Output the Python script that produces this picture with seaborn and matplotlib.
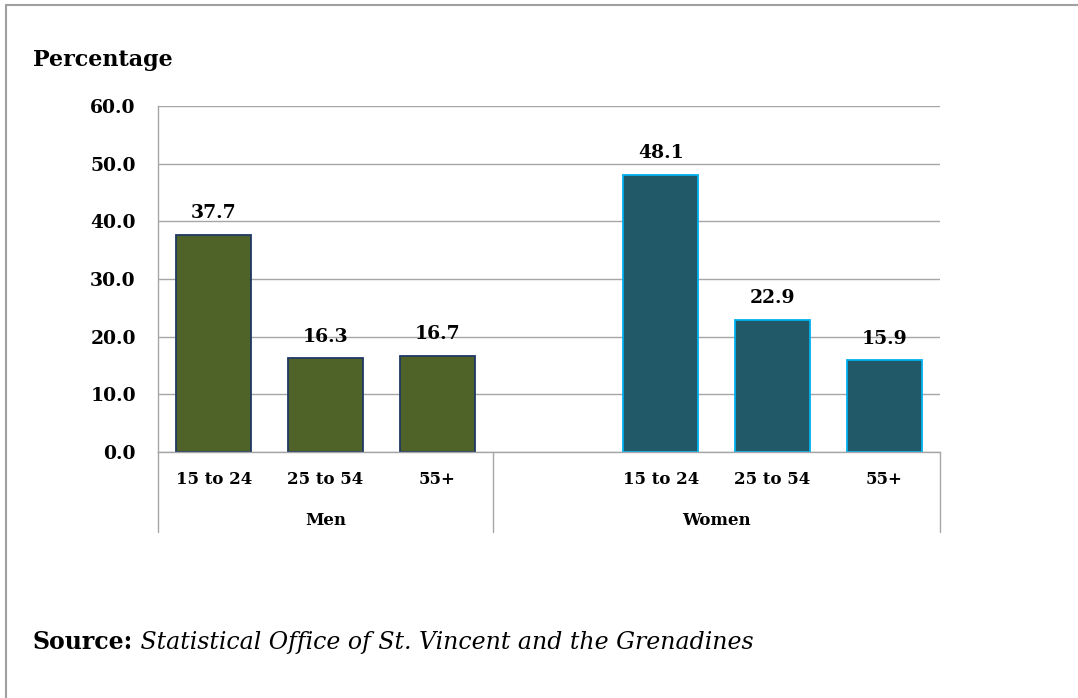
import pandas as pd
import matplotlib.pyplot as plt
import matplotlib.transforms as mtransforms
from matplotlib.lines import Line2D
import seaborn as sns

# values
sexes = ["Men", "Men", "Men", "Women", "Women", "Women"]
age_groups = ["15 to 24", "25 to 54", "55+", "15 to 24", "25 to 54", "55+"]
percentages = [37.7, 16.3, 16.7, 48.1, 22.9, 15.9]
y_ticks = [0, 10, 20, 30, 40, 50, 60]

FILL = {"Men": "#4F6228", "Women": "#215968"}
EDGE = {"Men": "#1F3864", "Women": "#00B0F0"}
GRID = "#A6A6A6"
FONT = "DejaVu Serif"

df = pd.DataFrame({"sex": sexes, "age": age_groups, "pct": percentages})
df["slot"] = df["sex"] + " " + df["age"]
# Women block has an empty leading slot, as in the original Excel chart
slot_order = ["Men 15 to 24", "Men 25 to 54", "Men 55+", "Women gap",
              "Women 15 to 24", "Women 25 to 54", "Women 55+"]
slot_labels = ["15 to 24", "25 to 54", "55+", "", "15 to 24", "25 to 54", "55+"]

sns.set_style("white")
plt.rcParams["font.family"] = [FONT, "DejaVu Sans"]
plt.rcParams["text.color"] = "black"
plt.rcParams["ytick.color"] = "black"
plt.rcParams["xtick.color"] = "black"

fig = plt.figure(figsize=(10.78, 6.98), dpi=100)
ax = fig.add_axes([0.1466, 0.3524, 0.7254, 0.4957])

sns.barplot(data=df, x="slot", y="pct", hue="sex", order=slot_order,
            hue_order=["Men", "Women"], palette=FILL, dodge=False,
            width=0.67, saturation=1, legend=False, ax=ax)

for container, sex in zip(ax.containers, ["Men", "Women"]):
    for bar in container:
        bar.set_edgecolor(EDGE[sex])
        bar.set_linewidth(1.3)
    ax.bar_label(container, fmt="%.1f", padding=9, fontsize=13.5,
                 fontweight="bold", fontfamily=FONT, color="black")

ax.set_ylim(0, 60)
ax.set_xlim(-0.5, 6.5)
ax.set_yticks(y_ticks)
ax.set_yticklabels([f"{v:.1f}" for v in y_ticks], fontsize=13.5,
                   fontweight="bold", fontfamily=FONT)
ax.set_xticks(range(len(slot_order)))
ax.set_xticklabels([])
ax.tick_params(axis="y", length=0, pad=16)
ax.tick_params(axis="x", length=0)
ax.set_xlabel("")
ax.set_ylabel("")
ax.yaxis.grid(True, color=GRID, linewidth=1.0)
ax.set_axisbelow(True)
for side in ["top", "right"]:
    ax.spines[side].set_visible(False)
for side in ["left", "bottom"]:
    ax.spines[side].set_color(GRID)
    ax.spines[side].set_linewidth(1.0)

# two-level category axis
trans = mtransforms.blended_transform_factory(ax.transData, ax.transAxes)
for i, lab in enumerate(slot_labels):
    ax.text(i, -0.078, lab, transform=trans, ha="center", va="center",
            fontsize=12, fontweight="bold", fontfamily=FONT)
ax.text(1, -0.197, "Men", transform=trans, ha="center", va="center",
        fontsize=12, fontweight="bold", fontfamily=FONT)
ax.text(4.5, -0.197, "Women", transform=trans, ha="center", va="center",
        fontsize=12, fontweight="bold", fontfamily=FONT)
for xb in [-0.5, 2.5, 6.5]:
    ax.plot([xb, xb], [0, -0.231], transform=trans, color=GRID,
            linewidth=1.0, clip_on=False)

fig.text(0.0306, 0.914, "Percentage", ha="left", va="center",
         fontsize=16, fontweight="bold", fontfamily=FONT)

src = fig.text(0.0306, 0.080, "Source:", ha="left", va="center",
               fontsize=17, fontweight="bold", fontfamily=FONT)
ax.annotate(" Statistical Office of St. Vincent and the Grenadines",
            xy=(1, 0.5), xycoords=src, ha="left", va="center",
            fontsize=17, fontstyle="italic", fontfamily=FONT,
            annotation_clip=False)

# page frame (top and left edges only)
fig.add_artist(Line2D([0.0056, 1.0], [0.9928, 0.9928], color="#A0A0A0",
                      linewidth=1.5, transform=fig.transFigure))
fig.add_artist(Line2D([0.0056, 0.0056], [0.0, 0.9928], color="#A0A0A0",
                      linewidth=1.5, transform=fig.transFigure))

fig.savefig("out.png", dpi=100, facecolor="white")
